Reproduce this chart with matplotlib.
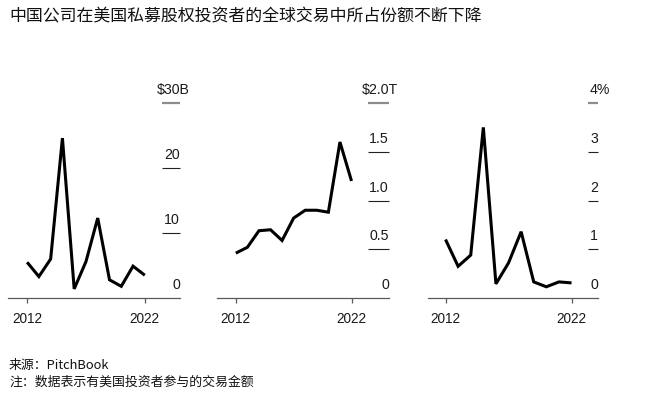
import matplotlib
matplotlib.use('Agg')
import matplotlib.pyplot as plt
from matplotlib.transforms import blended_transform_factory
from matplotlib.font_manager import FontProperties

plt.rcParams['font.family'] = ['Liberation Sans', 'Noto Sans CJK SC', 'DejaVu Sans']

# ---------------- data ----------------
years = list(range(2012, 2023))
china_deal_value_bn = [5.5, 3.3, 6.0, 24.6, 1.4, 5.6, 12.3, 2.8, 1.8, 4.9, 3.5]
global_deal_value_tn = [0.46, 0.52, 0.69, 0.70, 0.59, 0.82, 0.90, 0.90, 0.88, 1.60, 1.20]
china_share_pct = [1.2, 0.65, 0.88, 3.5, 0.29, 0.72, 1.36, 0.33, 0.23, 0.33, 0.31]

x_ticks = [2012, 2022]
x_tick_labels = ['2012', '2022']

y_ticks_1 = [0, 10, 20, 30]
y_labels_1 = ['0', '10', '20', '$30']
y_suffix_1 = 'B'
y_ticks_2 = [0, 0.5, 1.0, 1.5, 2.0]
y_labels_2 = ['0', '0.5', '1.0', '1.5', '$2.0']
y_suffix_2 = 'T'
y_ticks_3 = [0, 1, 2, 3, 4]
y_labels_3 = ['0', '1', '2', '3', '4']
y_suffix_3 = '%'

title = '中国公司在美国私募股权投资者的全球交易中所占份额不断下降'
source = '来源：PitchBook'
note = '注：数据表示有美国投资者参与的交易金额'

# ---------------- layout ----------------
W, H = 650, 399
fig = plt.figure(figsize=(W / 100, H / 100), dpi=100)
fig.patch.set_facecolor('white')
renderer = fig.canvas.get_renderer()

TOP, BOTTOM = 103, 298
FS = 10.2
XFS = 9.8
fp = FontProperties(family='Liberation Sans', size=FS)

panels = [
    dict(left=8, right=180, xlim=(2010.376, 2024.99), data=china_deal_value_bn,
         ticks=y_ticks_1, labels=y_labels_1, suffix=y_suffix_1, tlen=18),
    dict(left=217, right=389, xlim=(2010.374, 2025.24), data=global_deal_value_tn,
         ticks=y_ticks_2, labels=y_labels_2, suffix=y_suffix_2, tlen=21),
    dict(left=428, right=598, xlim=(2010.61, 2024.1), data=china_share_pct,
         ticks=y_ticks_3, labels=y_labels_3, suffix=y_suffix_3, tlen=10),
]

AX_COLOR = '#5a5a5a'
TXT_COLOR = '#1a1a1a'

for p in panels:
    wpx = p['right'] - p['left']
    ax = fig.add_axes([p['left'] / W, 1 - BOTTOM / H, wpx / W, (BOTTOM - TOP) / H])
    ax.set_xlim(*p['xlim'])
    ax.set_ylim(p['ticks'][0], p['ticks'][-1])
    for s in ['top', 'left', 'right']:
        ax.spines[s].set_visible(False)
    ax.spines['bottom'].set_color(AX_COLOR)
    ax.spines['bottom'].set_linewidth(0.9)
    ax.set_yticks([])
    ax.set_xticks(x_ticks)
    ax.set_xticklabels(x_tick_labels)
    ax.tick_params(axis='x', direction='out', length=3.6, width=0.9, color=AX_COLOR,
                   labelsize=XFS, labelcolor=TXT_COLOR, pad=6.5)
    ax.patch.set_alpha(0)

    trans = blended_transform_factory(ax.transAxes, ax.transData)
    x0 = 1 - p['tlen'] / wpx
    n = len(p['ticks'])
    for i, (v, lab) in enumerate(zip(p['ticks'], p['labels'])):
        is_top = i == n - 1
        if i > 0:
            ax.plot([x0, 1], [v, v], transform=trans,
                    color='#8c8c8c' if is_top else '#222222',
                    lw=1.6 if is_top else 0.8, solid_capstyle='butt', clip_on=False)
        dx = 0.0
        text = lab
        if is_top:
            full_w = renderer.get_text_width_height_descent(lab + p['suffix'], fp, ismath=False)[0]
            num_w = renderer.get_text_width_height_descent(lab, fp, ismath=False)[0]
            dx = (full_w - num_w) * 72 / 100
            text = lab + p['suffix']
        ax.annotate(text, xy=(1, v), xycoords=trans, xytext=(dx, 9.2),
                    textcoords='offset points', ha='right', va='center',
                    fontsize=FS, color=TXT_COLOR, annotation_clip=False)

    ax.plot(years, p['data'], color='black', lw=2.2, solid_joinstyle='miter',
            solid_capstyle='butt', clip_on=False)

cjk = ['Noto Sans CJK SC', 'DejaVu Sans']
fig.text(9 / W, 1 - 16 / H, title, fontsize=12.2, va='center', ha='left',
         color='#111111', family=cjk)
fig.text(9 / W, 1 - 366 / H, source, fontsize=9.3, va='center', ha='left',
         color='#111111', family=cjk)
fig.text(9 / W, 1 - 382 / H, note, fontsize=9.3, va='center', ha='left',
         color='#111111', family=cjk)

fig.savefig('out.png', dpi=100, facecolor='white')
